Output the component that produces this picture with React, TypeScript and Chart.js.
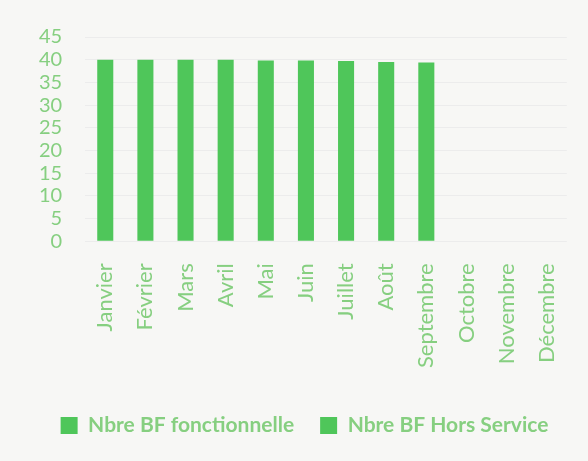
import React, { useEffect, useRef } from "react";
import { Chart, registerables } from "chart.js";

Chart.register(...registerables);

const months = ["Janvier", "Février", "Mars", "Avril", "Mai", "Juin", "Juillet", "Août", "Septembre", "Octobre", "Novembre", "Décembre"];
const fonctionnelle = [40, 40, 40, 40, 39.8, 39.8, 39.7, 39.5, 39.4, null, null, null];
const horsService = [0, 0, 0, 0, 0, 0, 0, 0, 0, null, null, null];
const seriesNames = ["Nbre BF fonctionnelle", "Nbre BF Hors Service"];

const BAR = "#4fc65a";
const TEXT = "#86cf80";

const shiftLegend = {
  id: "shiftLegend",
  afterLayout(chart: any) {
    if (chart.legend) {
      chart.legend.left += 13;
      chart.legend.right += 13;
    }
  },
};

export default function App() {
  const ref = useRef<HTMLCanvasElement | null>(null);
  useEffect(() => {
    document.body.style.margin = "0";
    const ctx = ref.current!;
    const chart = new Chart(ctx, {
      type: "bar",
      data: {
        labels: months,
        datasets: [
          { label: seriesNames[0], data: fonctionnelle, backgroundColor: BAR, categoryPercentage: 1, barPercentage: 0.4 },
          { label: seriesNames[1], data: horsService, backgroundColor: BAR, categoryPercentage: 1, barPercentage: 0.4 },
        ],
      },
      plugins: [shiftLegend],
      options: {
        animation: false,
        responsive: false,
        maintainAspectRatio: false,
        layout: { padding: { top: 37, left: 16, right: 21, bottom: 15 } },
        plugins: {
          tooltip: { enabled: false },
          legend: {
            position: "bottom",
            labels: {
              color: TEXT,
              font: { family: "Lato", size: 21, weight: "bold" },
              boxWidth: 17,
              boxHeight: 17,
              padding: 26,
            },
          },
        },
        scales: {
          x: {
            stacked: true,
            grid: { display: false },
            border: { display: false },
            afterFit: (scale: any) => {
              scale.height += 7;
            },
            ticks: {
              color: TEXT,
              font: { family: "Lato", size: 22 },
              maxRotation: 90,
              minRotation: 90,
              autoSkip: false,
              padding: 14,
            },
          },
          y: {
            stacked: true,
            min: 0,
            max: 45,
            grid: { color: "#ececec", drawTicks: false },
            border: { display: false },
            ticks: {
              stepSize: 5,
              autoSkip: false,
              color: TEXT,
              font: { family: "Lato", size: 20 },
              padding: 23,
            },
          },
        },
      },
    });
    return () => chart.destroy();
  }, []);
  return (
    <div style={{ width: 588, height: 461, background: "#f7f7f5" }}>
      <canvas ref={ref} width={588} height={461} />
    </div>
  );
}
